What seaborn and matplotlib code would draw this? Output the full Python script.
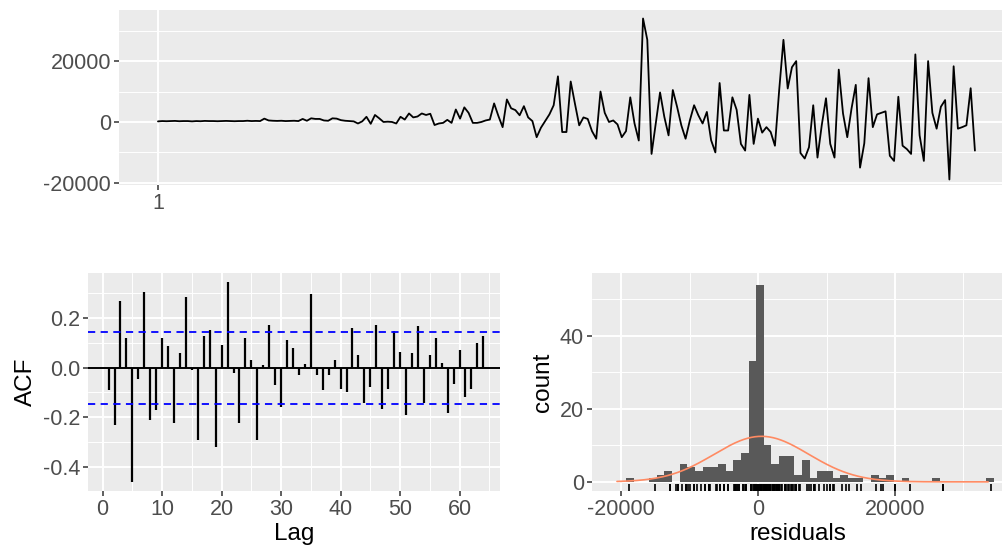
import numpy as np
import pandas as pd
import matplotlib
matplotlib.use("Agg")
import matplotlib.pyplot as plt
import seaborn as sns
from matplotlib.ticker import FixedLocator, NullFormatter

# ---------------- data ----------------
residuals = [
    200, 300, 250, 300, 350, 250, 300, 300, 200, 300, 250, 350, 300, 300, 250,
    300, 350, 300, 250, 300, 300, 400, 300, 350, 300,
    1100, 500, 400, 350, 400, 300, 350, 400, 300, 1000, 400, 1200, 1000, 1000,
    500, 400, 1200, 1100, 600, 400, 300, 200, -500, 200, 1700, -600, 2300, 1200,
    0, 100, 0, -500, 1700, 800, 2800, 1500, 1800,
    2800, 2300, 2700, -1000, -500, -300, 700, -300, 4100, 1100, 4800, 3000, -300,
    -300, 0, 500, 800, 6100, 2000, -1700, 7400, 4500, 3900, 2200, 5200, 1500, 300,
    -5000, -1900, 300, 2500, 5500, 15000, -3300, -3300, 13300, 6000, -1100,
    1500, 1000, -3000, -5500, 10000, 3000, 0, 500, -800, -5000, -3000, 8100, -500,
    -6100, 34000, 27000, -10500, -500, 9700, 1700, -4400, 10500, 5000, -1100,
    -5500, 500, 5500, 2200, -500,
    3300, -6000, -10000, 12800, -2800, -2800, 8100, 4000, -7200, -9400, 8900,
    -7200, 1100, -3500, -1700, -3300, -7800, 10500, 27000, 11000, 18000, 20000,
    -10200, -12000, -8300, 5500, -11700, -1100, 7800, -7200, -11700, 17200, 2800,
    -5000, 4400, 12200, -15000, -7000, 14400, -1700, 2500, 3000, 3500, -11100,
    -12800, 8300, -7800, -8900, -10500, 22200, -4400, -12800, 20000, 3000, -2200,
    5000, 7200, -18900, 18300, -2200, -1700, -1100, 11100, -9400,
]

acf_lags = list(range(1, 65))
acf_values = [
    -0.091, -0.230, 0.271, 0.120, -0.463, -0.044, 0.306, -0.211, -0.169, 0.120,
    0.086, -0.223, 0.059, 0.284, -0.010, -0.293, 0.127, 0.154, -0.320, 0.093,
    0.347, -0.023, -0.223, 0.120, 0.031, -0.293, 0.010, 0.174, -0.071, -0.159,
    0.113, 0.079, -0.030, 0.015, 0.298, -0.030, -0.091, -0.030, 0.031, -0.084,
    -0.099, 0.161, 0.052, -0.141, -0.078, 0.174, -0.166, -0.084, 0.147, 0.064,
    -0.189, 0.059, 0.167, -0.141, 0.052, 0.120, 0.018, -0.181, -0.064, 0.072,
    -0.118, -0.084, 0.099, 0.127,
]
acf_ci = 0.145

hist_first_edge = -19280
hist_binwidth = 1118
hist_counts = [
    1, 0, 0, 1, 2, 3, 0, 5, 4, 3, 4, 4, 5, 3, 6, 8, 33, 54, 10, 5, 7, 7, 2, 6,
    1, 3, 3, 1, 2, 1, 1, 0, 2, 1, 2, 0, 1, 0, 0, 0, 1, 0, 0, 0, 0, 0, 0, 1,
]
normal_mean = 500
normal_sd = 6900
normal_range = (-20600, 33600)

top_yticks = [-20000, 0, 20000]
top_yticks_minor = [-10000, 10000, 30000]
acf_yticks = [-0.4, -0.2, 0.0, 0.2]
acf_yticks_minor = [-0.3, -0.1, 0.1, 0.3]
acf_xticks = [0, 10, 20, 30, 40, 50, 60]
acf_xticks_minor = [5, 15, 25, 35, 45, 55, 65]
hist_xticks = [-20000, 0, 20000]
hist_xticks_minor = [-10000, 10000, 30000]
hist_yticks = [0, 20, 40]
hist_yticks_minor = [10, 30, 50]

# ---------------- style ----------------
sns.set_theme(style="darkgrid")
plt.rcParams["font.family"] = ["Liberation Sans", "DejaVu Sans"]
plt.rcParams["axes.unicode_minus"] = False

PANEL = "#EBEBEB"
TICK_LABEL = "#4D4D4D"
TICK = "#333333"
FS_TICK = 15.5
FS_TITLE = 17.5

fig = plt.figure(figsize=(10.03, 5.57), dpi=100)
fig.patch.set_facecolor("white")


def style(ax, xmaj, xmin, ymaj, ymin):
    ax.set_facecolor(PANEL)
    for s in ax.spines.values():
        s.set_visible(False)
    ax.xaxis.set_major_locator(FixedLocator(xmaj))
    ax.yaxis.set_major_locator(FixedLocator(ymaj))
    ax.xaxis.set_minor_locator(FixedLocator(xmin))
    ax.yaxis.set_minor_locator(FixedLocator(ymin))
    ax.xaxis.set_minor_formatter(NullFormatter())
    ax.yaxis.set_minor_formatter(NullFormatter())
    ax.grid(which="major", color="white", linewidth=1.4)
    ax.grid(which="minor", color="white", linewidth=0.7)
    ax.set_axisbelow(True)
    ax.tick_params(which="major", direction="out", length=3.6, width=1.1,
                   color=TICK, labelcolor=TICK_LABEL, labelsize=FS_TICK, pad=2,
                   bottom=True, left=True)
    ax.tick_params(which="minor", length=0)


# ---------------- top: residual series ----------------
ax1 = fig.add_axes([0.1186, 0.6679, 0.8814, 0.3142])
n = len(residuals)
series_df = pd.DataFrame({"t": np.arange(n), "resid": residuals})
sns.lineplot(data=series_df, x="t", y="resid", ax=ax1, color="black", linewidth=1.3)
style(ax1, [0], [], top_yticks, top_yticks_minor)
ax1.set_xticklabels(["1"])
ax1.set_yticklabels([str(v) for v in top_yticks])
ax1.set_xlim(-9.17, 198.6)
ax1.set_ylim(-20700, 36800)
ax1.set_xlabel("")
ax1.set_ylabel("")

# ---------------- bottom left: ACF ----------------
ax2 = fig.add_axes([0.0877, 0.1185, 0.4108, 0.3919])
style(ax2, acf_xticks, acf_xticks_minor, acf_yticks, acf_yticks_minor)
ax2.vlines(acf_lags, 0, acf_values, color="black", linewidth=1.6)
ax2.axhline(0, color="black", linewidth=1.4)
ax2.axhline(acf_ci, color="blue", linewidth=1.3, linestyle=(0, (4, 3)))
ax2.axhline(-acf_ci, color="blue", linewidth=1.3, linestyle=(0, (4, 3)))
ax2.set_xticklabels([str(v) for v in acf_xticks])
ax2.set_yticklabels([f"{v:.1f}" for v in acf_yticks])
ax2.set_xlim(-2.47, 66.8)
ax2.set_ylim(-0.498, 0.384)
ax2.set_xlabel("Lag", fontsize=FS_TITLE, color="black", labelpad=2)
ax2.set_ylabel("ACF", fontsize=FS_TITLE, color="black", labelpad=4)

# ---------------- bottom right: histogram ----------------
ax3 = fig.add_axes([0.590, 0.1185, 0.410, 0.3919])
style(ax3, hist_xticks, hist_xticks_minor, hist_yticks, hist_yticks_minor)
edges = [hist_first_edge + hist_binwidth * i for i in range(len(hist_counts) + 1)]
hist_df = pd.DataFrame({
    "center": [e + hist_binwidth / 2 for e in edges[:-1]],
    "count": [float(c) for c in hist_counts],
})
sns.histplot(data=hist_df, x="center", weights="count", bins=edges, ax=ax3,
             color="#595959", alpha=1, edgecolor="none", linewidth=0)
xs = np.linspace(normal_range[0], normal_range[1], 300)
total = sum(hist_counts)
ys = total * hist_binwidth * np.exp(-0.5 * ((xs - normal_mean) / normal_sd) ** 2) / (
    normal_sd * np.sqrt(2 * np.pi))
sns.lineplot(x=xs, y=ys, ax=ax3, color="#ff8a62", linewidth=1.2)
sns.rugplot(x=residuals, ax=ax3, height=0.03, color="black", linewidth=1.2)
ax3.set_xticklabels([str(v) for v in hist_xticks])
ax3.set_yticklabels([str(v) for v in hist_yticks])
ax3.set_xlim(-24280, 35770)
ax3.set_ylim(-2.5, 57.3)
ax3.set_xlabel("residuals", fontsize=FS_TITLE, color="black", labelpad=2)
ax3.set_ylabel("count", fontsize=FS_TITLE, color="black", labelpad=4)

fig.savefig("out.png", dpi=100, facecolor="white")
